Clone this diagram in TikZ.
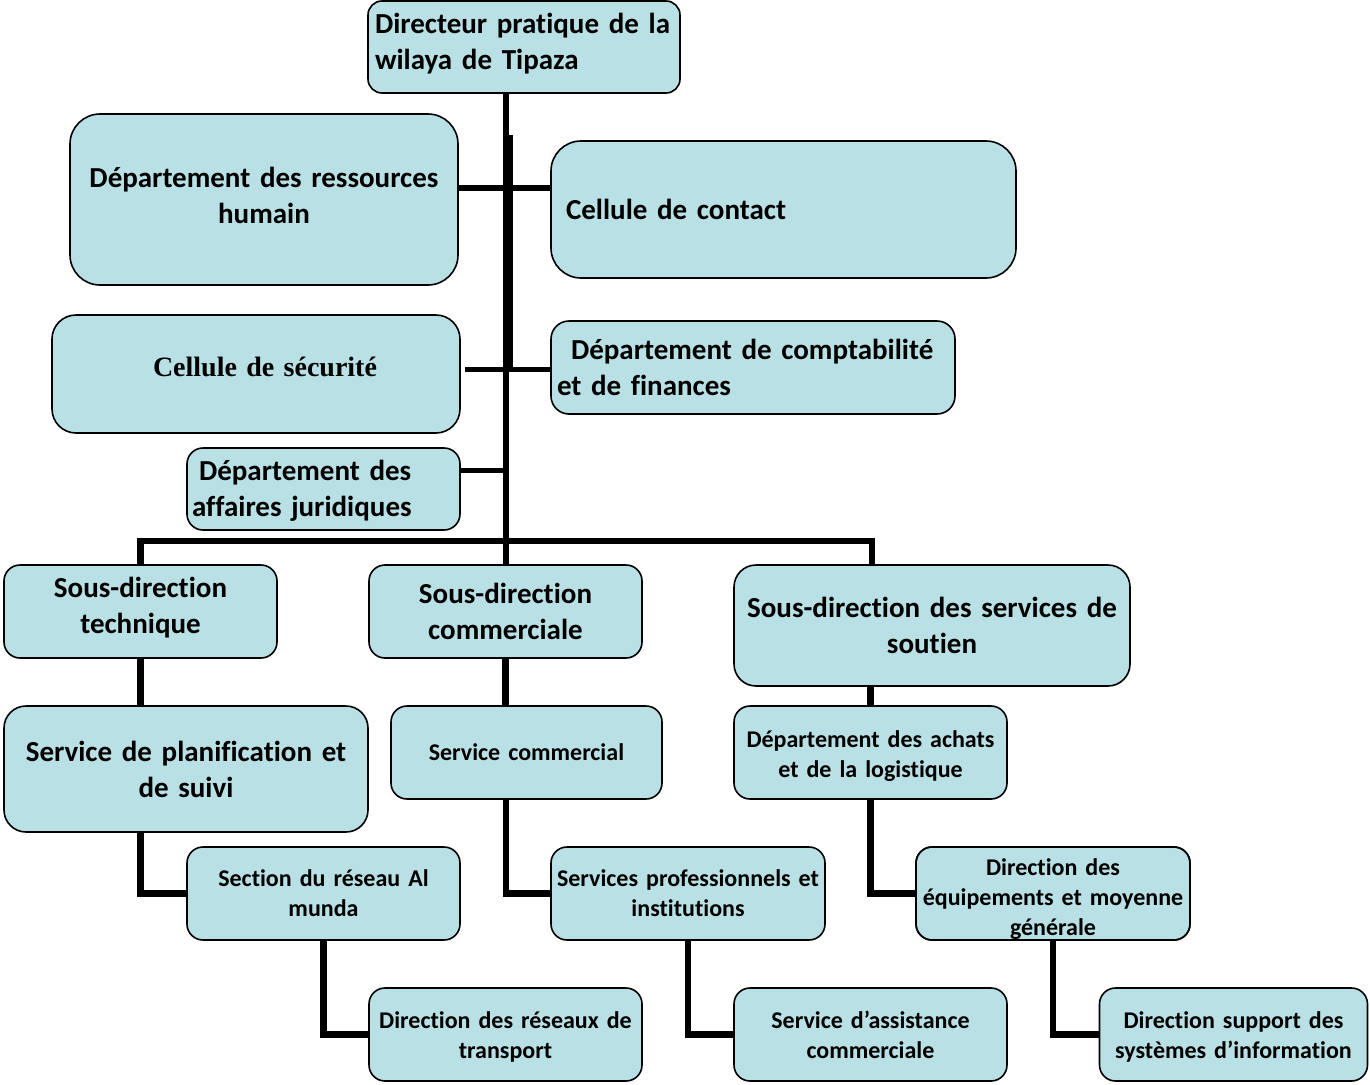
\documentclass[tikz,border=0pt]{standalone}
\usepackage{fontspec}
\setmainfont{Carlito}[Ligatures={NoCommon}]
\newfontfamily\timesfont{Liberation Serif}
\usetikzlibrary{backgrounds}
\definecolor{boxfill}{RGB}{185,224,228}
\begin{document}
\begin{tikzpicture}[x=1pt,y=-1pt,
  box/.style={draw=black, line width=1.6pt, fill=boxfill, rounded corners=16pt,
    inner sep=0pt, align=center, minimum height=93pt,
    font=\bfseries\fontsize{29}{36}\selectfont},
  small/.style={font=\bfseries\fontsize{24}{30}\selectfont},
  % extra space (positive or negative) below the text moves it up or down
  textshift/.style={execute at end node={\endgraf\vspace*{#1}}},
  conn/.style={line width=6.5pt, black},
  link/.style={line width=5.5pt, black}]
\useasboundingbox (0,0) rectangle (1370,1084);

% --- top of the hierarchy and staff units
\node[box, minimum width=312pt, minimum height=92pt, text width=298pt, align=left,
  rounded corners=14pt, textshift=6pt] (top) at (524,47) {Directeur pratique de la\\wilaya de Tipaza};
\node[box, minimum width=388pt, minimum height=171pt, text width=388pt,
  rounded corners=30pt, textshift=8pt] (rh) at (264,199.5) {Département des ressources\\humain};
\node[box, minimum width=465pt, minimum height=137pt, text width=435pt, align=left,
  rounded corners=30pt] (contact) at (783.5,209.5) {Cellule de contact};
\node[box, minimum width=408pt, minimum height=118pt, text width=408pt,
  rounded corners=24pt, textshift=14pt, font=\timesfont\bfseries\fontsize{28}{34}\selectfont]
  (secu) at (256,374) {\hspace*{18pt}Cellule de sécurité};
\node[box, minimum width=404pt, text width=392pt, align=left,
  rounded corners=18pt] (compta) at (753,367.5)
  {\hspace*{14pt}Département de comptabilité\\et de finances};
\node[box, minimum width=273pt, minimum height=82pt, text width=263pt, align=left,
  textshift=-4pt] (jur) at (323.5,489) {\hspace*{7pt}Département des\\affaires juridiques};

% --- sub-directorates
\node[box, minimum width=273pt, text width=273pt, textshift=7pt] (tech) at (140.5,611.5)
  {Sous-direction\\technique};
\node[box, minimum width=273pt, text width=273pt] (com) at (505.5,611.5)
  {Sous-direction\\commerciale};
\node[box, minimum width=396pt, minimum height=121pt, text width=396pt,
  rounded corners=22pt] (sout) at (932,625.5)
  {Sous-direction des services de\\soutien};

% --- services
\node[box, minimum width=364pt, minimum height=126pt, text width=364pt,
  rounded corners=22pt] (planif) at (186,769)
  {Service de planification et\\de suivi};
\node[box, small, minimum width=271pt, text width=271pt] (scom) at (526.5,752.5)
  {Service commercial};
\node[box, small, minimum width=273pt, text width=273pt, textshift=-7pt] (achats) at (870.5,752.5)
  {Département des achats\\et de la logistique};

\node[box, small, minimum width=273pt, text width=273pt] (sect) at (323.5,893.5)
  {Section du réseau Al\\munda};
\node[box, small, minimum width=274pt, text width=274pt] (spro) at (688,893.5)
  {Services professionnels et\\institutions};
\node[box, small, minimum width=274pt, text width=274pt] (equip) at (1053,893.5) {};
\begin{scope}
  \clip[rounded corners=16pt] (equip.south west) rectangle (equip.north east);
  \node[small, inner sep=0pt, align=center, text width=274pt] (equiptxt) at (1053,899.5)
    {Direction des\\équipements et moyenne\\générale};
\end{scope}
\draw[line width=1.6pt, rounded corners=16pt]
  ([shift={(0.8pt,0.8pt)}]equip.south west) rectangle ([shift={(-0.8pt,-0.8pt)}]equip.north east);

\node[box, small, minimum width=273pt, text width=273pt, textshift=-4pt] (drt) at (505.5,1034.5)
  {Direction des réseaux de\\transport};
\node[box, small, minimum width=273pt, text width=273pt] (sac) at (870.5,1034.5)
  {Service d’assistance\\commerciale};
\node[box, small, minimum width=268pt, text width=268pt, textshift=-4pt] (dsi) at (1233.5,1034.5)
  {Direction support des\\systèmes d’information};

% --- helper coordinates for the connector lines
\coordinate (tk) at (506,0);
\coordinate (t2a) at (509.5,135);
\coordinate (t2b) at (509.5,370);
\coordinate (bus) at (506,541);
\coordinate (sx) at (872,0);
\coordinate (hA) at (0,188);
\coordinate (hB) at (0,369.5);
\coordinate (hC) at (0,470.5);
\path ([xshift=4pt]secu.east) coordinate (secuE);

\begin{scope}[on background layer]
  % main trunk
  \draw[conn] (top.south -| tk) -- (com.north -| tk);
  \draw[conn] (t2a) -- (t2b);
  % staff units
  \draw[link] (rh.east |- hA) -- (contact.west |- hA);
  \draw[link] (secuE |- hB) -- (compta.west |- hB);
  \draw[link] (jur.east |- hC) -- (tk |- hC);
  % bus to the sub-directorates
  \draw[conn] (tech.north) |- (bus) -| (sx |- sout.north);
  % branches
  \draw[conn] (tech.south) -- (tech.south |- planif.north);
  \draw[conn] (com.south) -- (com.south |- scom.north);
  \draw[conn] (achats.north |- sout.south) -- (achats.north);
  \draw[conn] (tech.south |- planif.south) |- (sect.west);
  \draw[conn] (tk |- scom.south) |- (spro.west);
  \draw[conn] (achats.south) |- (equip.west);
  \draw[conn] (sect.south) |- (drt.west);
  \draw[conn] (spro.south) |- (sac.west);
  \draw[conn] (equip.south) |- (dsi.west);
\end{scope}
\end{tikzpicture}
\end{document}
